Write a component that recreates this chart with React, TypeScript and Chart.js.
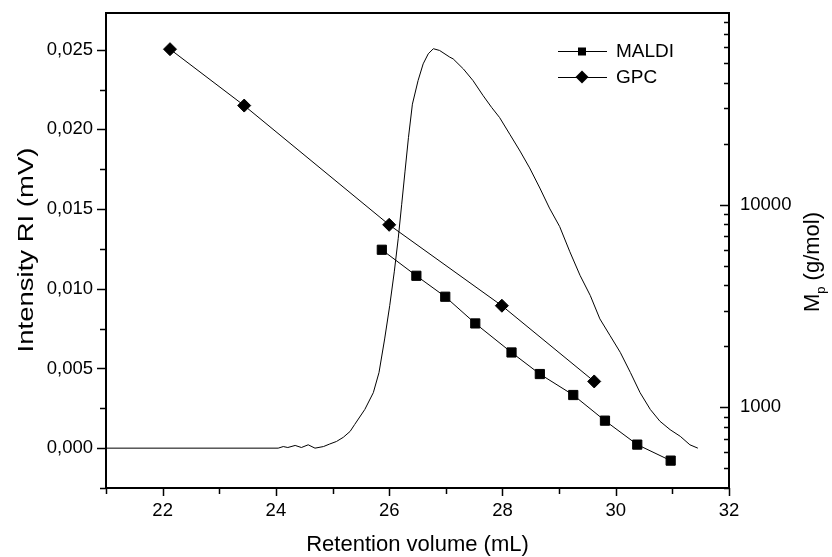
import React, { useEffect, useRef } from 'react';
import { Chart, registerables } from 'chart.js';

Chart.register(...registerables);

// Refractive-index trace (retention volume mL, intensity mV)
const RI_X = [21, 24.04, 24.13, 24.21, 24.34, 24.45, 24.57, 24.69, 24.84, 24.95,
  25.07, 25.19, 25.31, 25.39, 25.57, 25.72, 25.82, 25.92, 26.01, 26.09,
  26.16, 26.22, 26.28, 26.34, 26.41, 26.51, 26.6, 26.69, 26.78, 26.89,
  27.07, 27.13, 27.31, 27.48, 27.66, 27.81, 27.95, 28.13, 28.31, 28.48,
  28.66, 28.83, 29.01, 29.19, 29.37, 29.55, 29.72, 29.9, 30.08, 30.26,
  30.43, 30.61, 30.78, 30.96, 31.14, 31.31, 31.45];
const RI_Y = [0, 0, 0.0001, 0.00004, 0.00017, 0.00004, 0.00021, 0, 0.0001, 0.00026,
  0.00042, 0.00068, 0.00105, 0.00148, 0.00243, 0.00348, 0.00474, 0.00685, 0.00895, 0.01106,
  0.01316, 0.01527, 0.01738, 0.01948, 0.02158, 0.02306, 0.02411, 0.02474, 0.02506, 0.02495,
  0.02453, 0.02442, 0.02379, 0.02306, 0.02211, 0.02137, 0.02074, 0.01969, 0.01864, 0.01758,
  0.01632, 0.01506, 0.0139, 0.01232, 0.01084, 0.00958, 0.00811, 0.00706, 0.00601, 0.00474,
  0.00348, 0.00243, 0.00169, 0.00116, 0.00074, 0.00021, 0];

// MALDI calibration points (retention volume, Mp g/mol)
const MALDI_X = [25.87, 26.48, 26.99, 27.52, 28.16, 28.66, 29.25, 29.81, 30.38, 30.97];
const MALDI_M = [6000, 4464, 3518, 2597, 1867, 1461, 1151, 860, 655, 546];

// GPC calibration points
const GPC_X = [22.13, 23.44, 26.0, 27.99, 29.62];
const GPC_M = [58660, 30900, 7966, 3176, 1343];

// Axis ticks
const X_TICKS = [21, 22, 23, 24, 25, 26, 27, 28, 29, 30, 31, 32];
const Y_TICKS = [-0.0025, 0, 0.0025, 0.005, 0.0075, 0.01, 0.0125, 0.015, 0.0175, 0.02, 0.0225, 0.025];
const Y2_TICKS = [400, 500, 600, 700, 800, 900, 1000, 2000, 3000, 4000, 5000, 6000, 7000, 8000, 9000,
  10000, 20000, 30000, 40000, 50000, 60000, 70000, 80000];
const Y2_LABELED = [1000, 10000];

const FONT = '"Liberation Sans", Arial, sans-serif';

const isYMajor = (v: number) => {
  const k = v / 0.005;
  return Math.abs(k - Math.round(k)) < 1e-6 && v > -1e-9 && v < 0.0251;
};

const zeroPad = (s: any) => {
  s.paddingTop = 0;
  s.paddingBottom = 0;
  s.paddingLeft = 0;
  s.paddingRight = 0;
};

const decorPlugin = {
  id: 'decor',
  afterDraw(chart: any) {
    const { ctx, chartArea: a, scales } = chart;
    ctx.save();
    ctx.strokeStyle = '#000';
    ctx.fillStyle = '#000';
    // frame
    ctx.lineWidth = 2;
    ctx.strokeRect(a.left, a.top, a.right - a.left, a.bottom - a.top);
    ctx.lineWidth = 1.5;
    ctx.beginPath();
    // x ticks (outward, down)
    X_TICKS.forEach((v) => {
      const px = Math.round(scales.x.getPixelForValue(v)) + 0.5;
      const len = v % 2 === 0 ? 8 : 6;
      ctx.moveTo(px, a.bottom);
      ctx.lineTo(px, a.bottom + len);
    });
    // left y ticks (outward)
    Y_TICKS.forEach((v) => {
      const py = Math.round(scales.y.getPixelForValue(v)) + 0.5;
      const len = isYMajor(v) ? 9 : 6;
      ctx.moveTo(a.left, py);
      ctx.lineTo(a.left - len, py);
    });
    // right y ticks (inward)
    Y2_TICKS.forEach((v) => {
      const py = Math.round(scales.y2.getPixelForValue(v)) + 0.5;
      const len = Y2_LABELED.includes(v) ? 9 : 5;
      ctx.moveTo(a.right, py);
      ctx.lineTo(a.right - len, py);
    });
    ctx.stroke();

    // x title
    ctx.font = `22px ${FONT}`;
    ctx.textAlign = 'center';
    ctx.textBaseline = 'middle';
    ctx.fillText('Retention volume (mL)', (a.left + a.right) / 2, 545);

    // left title
    ctx.save();
    ctx.translate(27, 250);
    ctx.rotate(-Math.PI / 2);
    ctx.scale(1.25, 1);
    ctx.font = `22px ${FONT}`;
    ctx.fillText('Intensity RI (mV)', 0, 0);
    ctx.restore();

    // right title with subscript
    ctx.save();
    ctx.translate(819, 262);
    ctx.rotate(-Math.PI / 2);
    ctx.textBaseline = 'alphabetic';
    ctx.textAlign = 'left';
    ctx.font = `22px ${FONT}`;
    const mW = ctx.measureText('M').width;
    ctx.font = `13px ${FONT}`;
    const pW = ctx.measureText('p').width;
    ctx.font = `22px ${FONT}`;
    const restW = ctx.measureText(' (g/mol)').width;
    const total = mW + pW + restW;
    let x0 = -total / 2;
    ctx.fillText('M', x0, 0);
    x0 += mW;
    ctx.font = `13px ${FONT}`;
    ctx.fillText('p', x0, 6);
    x0 += pW;
    ctx.font = `22px ${FONT}`;
    ctx.fillText(' (g/mol)', x0, 0);
    ctx.restore();

    // legend
    const rows = [
      { label: 'MALDI', style: 'rect', y: 51 },
      { label: 'GPC', style: 'diamond', y: 77 },
    ];
    ctx.font = `19px ${FONT}`;
    ctx.textAlign = 'left';
    ctx.textBaseline = 'middle';
    rows.forEach((r) => {
      ctx.lineWidth = 1;
      ctx.beginPath();
      ctx.moveTo(558, r.y + 0.5);
      ctx.lineTo(607, r.y + 0.5);
      ctx.stroke();
      const cx = 582;
      ctx.beginPath();
      if (r.style === 'rect') {
        ctx.rect(cx - 4, r.y - 3.5, 8, 8);
      } else {
        ctx.moveTo(cx, r.y - 6.5);
        ctx.lineTo(cx + 6.5, r.y);
        ctx.lineTo(cx, r.y + 6.5);
        ctx.lineTo(cx - 6.5, r.y);
        ctx.closePath();
      }
      ctx.fill();
      ctx.fillText(r.label, 616, r.y + 1);
    });
    ctx.restore();
  },
};

export default function App() {
  const ref = useRef<HTMLCanvasElement | null>(null);

  useEffect(() => {
    document.body.style.margin = '0';
    const canvas = ref.current;
    if (!canvas) return;
    const ri = RI_X.map((x, i) => ({ x, y: RI_Y[i] }));
    const maldi = MALDI_X.map((x, i) => ({ x, y: MALDI_M[i] }));
    const gpc = GPC_X.map((x, i) => ({ x, y: GPC_M[i] }));

    const chart = new Chart(canvas, {
      type: 'line',
      data: {
        datasets: [
          {
            label: 'RI',
            data: ri,
            yAxisID: 'y',
            borderColor: '#000',
            borderWidth: 1,
            pointRadius: 0,
            tension: 0,
          },
          {
            label: 'MALDI',
            data: maldi,
            yAxisID: 'y2',
            borderColor: '#000',
            backgroundColor: '#000',
            borderWidth: 1,
            pointStyle: 'rect',
            pointRadius: 6.5,
            pointBorderWidth: 1,
            tension: 0,
          },
          {
            label: 'GPC',
            data: gpc,
            yAxisID: 'y2',
            borderColor: '#000',
            backgroundColor: '#000',
            borderWidth: 1,
            pointStyle: 'rectRot',
            pointRadius: 6.5,
            pointBorderWidth: 1,
            tension: 0,
          },
        ],
      },
      options: {
        responsive: false,
        animation: false,
        events: [],
        layout: { padding: { top: 13, left: 0, right: 0, bottom: 0 } },
        plugins: { legend: { display: false }, tooltip: { enabled: false }, title: { display: false } },
        scales: {
          x: {
            type: 'linear',
            min: 21,
            max: 32,
            grid: { display: false, drawTicks: false },
            border: { display: false },
            afterBuildTicks: (s: any) => { s.ticks = X_TICKS.map((v) => ({ value: v })); },
            afterFit: (s: any) => { s.height = 69; zeroPad(s); },
            ticks: {
              autoSkip: false,
              maxRotation: 0,
              padding: 12,
              color: '#000',
              font: { family: FONT, size: 18.5 },
              callback: (v: any) => (Number(v) % 2 === 0 ? String(v) : ''),
            },
          },
          y: {
            type: 'linear',
            position: 'left',
            min: -0.0025,
            max: 0.0273,
            grid: { display: false, drawTicks: false },
            border: { display: false },
            afterBuildTicks: (s: any) => { s.ticks = Y_TICKS.map((v) => ({ value: v })); },
            afterFit: (s: any) => { s.width = 106; zeroPad(s); },
            ticks: {
              autoSkip: false,
              padding: 13,
              color: '#000',
              font: { family: FONT, size: 18.5 },
              callback: (v: any) => (isYMajor(Number(v)) ? Number(v).toFixed(3).replace('.', ',') : ''),
            },
          },
          y2: {
            type: 'logarithmic',
            position: 'right',
            min: 400,
            max: 88500,
            grid: { display: false, drawTicks: false },
            border: { display: false },
            afterBuildTicks: (s: any) => { s.ticks = Y2_TICKS.map((v) => ({ value: v })); },
            afterFit: (s: any) => { s.width = 103; zeroPad(s); },
            ticks: {
              autoSkip: false,
              padding: 11,
              color: '#000',
              font: { family: FONT, size: 18.5 },
              callback: (v: any) => (Y2_LABELED.includes(Number(v)) ? String(v) : ''),
            },
          },
        },
      },
      plugins: [decorPlugin],
    });
    return () => chart.destroy();
  }, []);

  return (
    <div style={{ width: 832, height: 557, background: '#fff' }}>
      <canvas ref={ref} width={832} height={557} style={{ display: 'block' }} />
    </div>
  );
}
